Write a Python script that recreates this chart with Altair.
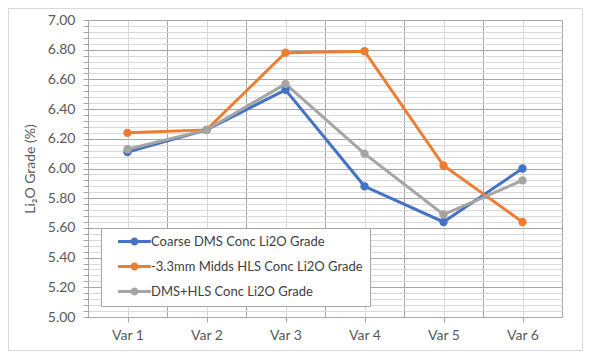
import altair as alt
import pandas as pd

categories = ["Var 1", "Var 2", "Var 3", "Var 4", "Var 5", "Var 6"]
series_names = [
    "Coarse DMS Conc Li2O Grade",
    "-3.3mm Midds HLS Conc Li2O Grade",
    "DMS+HLS Conc Li2O Grade",
]
coarse = [6.11, 6.26, 6.53, 5.88, 5.64, 6.00]
midds = [6.24, 6.26, 6.78, 6.79, 6.02, 5.64]
combined = [6.13, 6.26, 6.57, 6.10, 5.69, 5.92]
colors = ["#4472C4", "#ED7D31", "#A5A5A5"]

rows = []
for name, vals in zip(series_names, [coarse, midds, combined]):
    for i, (c, v) in enumerate(zip(categories, vals)):
        rows.append({"series": name, "idx": i + 1, "cat": c, "value": v})
df = pd.DataFrame(rows)

FONT = "Lato"
W, H = 474, 297
PL, PT, PR, PB = 80, 12, 21, 34

x_vals = [0.5 + 0.5 * k for k in range(13)]
y_vals = [round(5 + 0.04 * k, 2) for k in range(51)]

x_grid = {"condition": {"test": "datum.value % 1 != 0", "value": "#A6A6A6"}, "value": "#D9D9D9"}
x_tick = {"condition": {"test": "datum.value % 1 == 0", "value": "#A6A6A6"}, "value": "transparent"}
y_major = "abs(datum.value*5 - round(datum.value*5)) < 0.001"
y_grid = {"condition": {"test": y_major, "value": "#A6A6A6"}, "value": "#D9D9D9"}

x_enc = alt.X(
    "idx:Q",
    scale=alt.Scale(domain=[0.5, 6.5], nice=False, zero=False),
    axis=alt.Axis(
        values=x_vals,
        labelExpr="datum.value % 1 == 0 ? 'Var ' + datum.value : ''",
        gridColor=x_grid,
        tickColor=x_tick,
        tickSize=5,
        domainColor="#A6A6A6",
        labelPadding=6,
        labelFont=FONT,
        labelFontSize=14,
        labelColor="#595959",
        title=None,
    ),
)
y_enc = alt.Y(
    "value:Q",
    scale=alt.Scale(domain=[5, 7], nice=False, zero=False),
    axis=alt.Axis(
        values=y_vals,
        labelExpr=y_major + " ? format(datum.value, '.2f') : ''",
        gridColor=y_grid,
        tickColor="#A6A6A6",
        tickSize=5,
        domainColor="#A6A6A6",
        labelPadding=8,
        labelFont=FONT,
        labelFontSize=14,
        labelColor="#595959",
        title="Li₂O Grade (%)",
        titleFont=FONT,
        titleFontSize=14,
        titleFontWeight="normal",
        titleColor="#595959",
        titlePadding=10,
    ),
)

sym_path = ("M-4.1,-0.375 L4.1,-0.375 L4.1,0.375 L-4.1,0.375 Z "
            "M-1,0 A1,1 0 1,1 1,0 A1,1 0 1,1 -1,0 Z")

color_scale = alt.Scale(domain=series_names, range=colors)

legend = alt.Legend(
    title=None, orient="none", legendX=13, legendY=208,
    fillColor="white", strokeColor="#A6A6A6", padding=7,
    symbolType=sym_path, symbolSize=64, symbolStrokeWidth=0,
    symbolOffset=20, labelOffset=10,
    labelFont=FONT, labelFontSize=13, labelColor="#404040",
    rowPadding=11, labelLimit=0,
)

lines = alt.Chart(df).mark_line(strokeWidth=3).encode(
    x=x_enc, y=y_enc,
    color=alt.Color("series:N", scale=color_scale, legend=legend),
    order="idx:Q",
)
points = alt.Chart(df).mark_point(filled=True, size=70, opacity=1).encode(
    x=x_enc, y=y_enc,
    color=alt.Color("series:N", scale=color_scale, legend=legend),
)

frame = alt.Chart(pd.DataFrame({"a": [0]})).mark_rect(
    fillOpacity=0, stroke="#D9D9D9", strokeWidth=1
).encode(
    x=alt.value(-PL + 0.5), x2=alt.value(W + PR - 0.5),
    y=alt.value(-PT + 0.5), y2=alt.value(H + PB - 0.5),
)

chart = alt.layer(frame, lines, points).properties(
    width=W, height=H,
    padding={"left": PL, "top": PT, "right": PR, "bottom": PB},
    autosize=alt.AutoSizeParams(type="none"),
    background="white",
).configure_view(stroke=None)

chart.save("out.html", embed_options={"renderer": "svg", "actions": False})
